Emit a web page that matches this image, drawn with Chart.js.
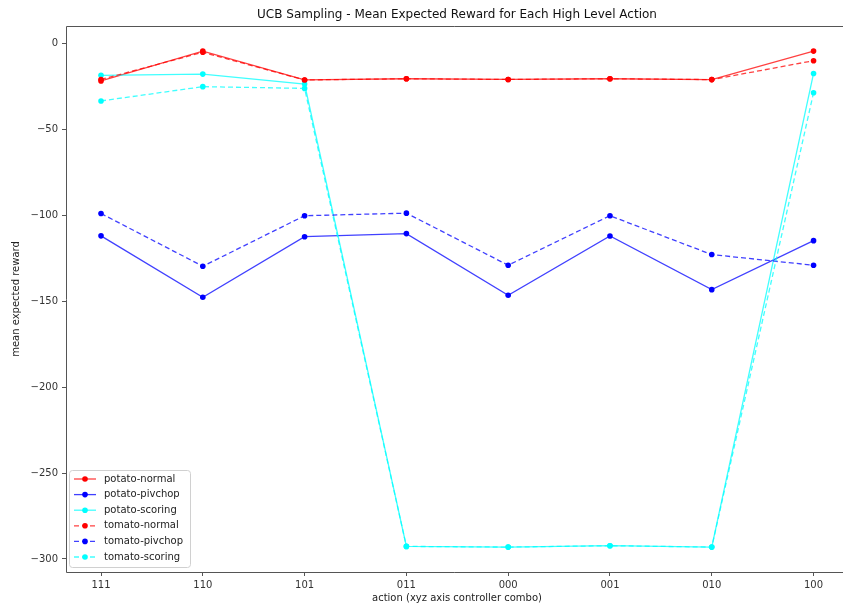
<!DOCTYPE html>
<html>
<head>
<meta charset="utf-8">
<script src="https://cdn.jsdelivr.net/npm/chart.js@4.4.0/dist/chart.umd.min.js"></script>
<style>
  html, body { margin: 0; padding: 0; background: #fff; }
  #wrap { width: 843px; height: 610px; }
</style>
</head>
<body>
<div id="wrap"><canvas id="ucbChart" width="843" height="610"></canvas></div>
<script>
// ======= DONNEES =======
const actions = ['111', '110', '101', '011', '000', '001', '010', '100'];
const yTicks = [0, -50, -100, -150, -200, -250, -300];

const potatoNormal  = [-21.9, -4.5, -21.3, -20.6, -21.0, -20.6, -21.1, -4.5];
const potatoPivchop = [-112.0, -147.7, -112.5, -110.7, -146.6, -112.1, -143.3, -114.8];
const potatoScoring = [-18.6, -17.9, -23.7, -292.7, -293.1, -292.3, -293.1, -17.5];
const tomatoNormal  = [-21.0, -5.2, -21.3, -20.6, -21.0, -20.6, -21.1, -10.1];
const tomatoPivchop = [-99.0, -129.7, -100.3, -98.8, -129.1, -100.3, -122.9, -129.1];
const tomatoScoring = [-33.5, -25.2, -26.2, -292.7, -293.1, -292.3, -293.1, -28.7];

const series = [
  { label: 'potato-normal',  values: potatoNormal,  color: '255,0,0',   dashed: false },
  { label: 'potato-pivchop', values: potatoPivchop, color: '0,0,255',   dashed: false },
  { label: 'potato-scoring', values: potatoScoring, color: '0,255,255', dashed: false },
  { label: 'tomato-normal',  values: tomatoNormal,  color: '255,0,0',   dashed: true },
  { label: 'tomato-pivchop', values: tomatoPivchop, color: '0,0,255',   dashed: true },
  { label: 'tomato-scoring', values: tomatoScoring, color: '0,255,255', dashed: true }
];

const FONT = 'DejaVu Sans';
const DASH = [5, 3];
// la figure d'origine est rognee a droite : le cadre continue au-dela du bord
const PLOT_RIGHT_FULL = 848;

// ======= DECOR : cadre, titres, legende =======
const decorPlugin = {
  id: 'decor',
  afterDraw(chart) {
    const ctx = chart.ctx;
    const a = chart.chartArea;
    ctx.save();
    // cadre (haut, gauche, bas ; le cote droit est hors image)
    ctx.strokeStyle = '#555';
    ctx.lineWidth = 1;
    const l = Math.round(a.left) + 0.5, t = Math.round(a.top) + 0.5, b = Math.round(a.bottom) + 0.5;
    ctx.beginPath();
    ctx.moveTo(843, t);
    ctx.lineTo(l, t);
    ctx.lineTo(l, b);
    ctx.lineTo(843, b);
    ctx.stroke();

    // titre
    const cx = (a.left + PLOT_RIGHT_FULL) / 2;
    ctx.fillStyle = '#111';
    ctx.textAlign = 'center';
    ctx.textBaseline = 'middle';
    ctx.font = '12px ' + FONT;
    ctx.fillText('UCB Sampling - Mean Expected Reward for Each High Level Action', cx, 15);

    // titres des axes
    ctx.font = '10px ' + FONT;
    ctx.fillStyle = '#222';
    ctx.fillText('action (xyz axis controller combo)', cx, 598);
    ctx.save();
    ctx.translate(16, (a.top + a.bottom) / 2);
    ctx.rotate(-Math.PI / 2);
    ctx.fillText('mean expected reward', 0, 0);
    ctx.restore();

    // legende
    const bx = 69.5, by = 470.5, bw = 121, bh = 97;
    ctx.fillStyle = 'rgba(255,255,255,0.85)';
    ctx.strokeStyle = '#d0d0d0';
    ctx.beginPath();
    ctx.roundRect(bx, by, bw, bh, 3);
    ctx.fill();
    ctx.stroke();
    series.forEach((s, i) => {
      const y = 479 + i * 15.6;
      ctx.strokeStyle = 'rgba(' + s.color + ',0.75)';
      ctx.lineWidth = 1.3;
      ctx.setLineDash(s.dashed ? DASH : []);
      ctx.beginPath();
      ctx.moveTo(74, y);
      ctx.lineTo(96, y);
      ctx.stroke();
      ctx.setLineDash([]);
      ctx.fillStyle = 'rgb(' + s.color + ')';
      ctx.beginPath();
      ctx.arc(85, y, 2.8, 0, Math.PI * 2);
      ctx.fill();
      ctx.fillStyle = '#222';
      ctx.textAlign = 'left';
      ctx.font = '10px ' + FONT;
      ctx.fillText(s.label, 104, y);
    });
    ctx.restore();
  }
};

// ======= GRAPHIQUE LIGNES =======
const canvas = document.getElementById('ucbChart');
new Chart(canvas, {
  type: 'line',
  data: {
    datasets: series.map((s, i) => ({
      label: s.label,
      data: s.values.map((v, k) => ({ x: k, y: v })),
      borderColor: 'rgba(' + s.color + ',0.75)',
      backgroundColor: 'rgb(' + s.color + ')',
      pointBackgroundColor: 'rgb(' + s.color + ')',
      pointBorderWidth: 0,
      pointRadius: 2.8,
      borderWidth: 1.3,
      borderDash: s.dashed ? DASH : [],
      tension: 0,
      fill: false,
      clip: false,
      order: series.length - i
    }))
  },
  options: {
    responsive: false,
    maintainAspectRatio: false,
    animation: false,
    layout: { padding: { top: 26, right: 0, left: 0, bottom: 0 } },
    plugins: {
      legend: { display: false },
      title: { display: false },
      tooltip: { enabled: false }
    },
    scales: {
      x: {
        type: 'linear',
        min: -0.344,
        max: 7.25,
        afterBuildTicks: sc => { sc.ticks = actions.map((a, i) => ({ value: i })); },
        afterFit: sc => { sc.height = 38; },
        border: { display: false },
        grid: { drawOnChartArea: false, tickLength: 4, tickColor: '#555' },
        ticks: {
          autoSkip: false,
          maxRotation: 0,
          padding: 3,
          color: '#333',
          font: { family: FONT, size: 10 },
          callback: v => actions[v]
        }
      },
      y: {
        min: -307.6,
        max: 10.1,
        afterBuildTicks: sc => { sc.ticks = yTicks.map(v => ({ value: v })); },
        afterFit: sc => { sc.width = 66; },
        border: { display: false },
        grid: { drawOnChartArea: false, tickLength: 4, tickColor: '#555' },
        ticks: {
          padding: 4,
          color: '#333',
          font: { family: FONT, size: 10 },
          callback: v => (v < 0 ? '\u2212' + Math.abs(v) : String(v))
        }
      }
    }
  },
  plugins: [decorPlugin]
});
</script>
</body>
</html>
